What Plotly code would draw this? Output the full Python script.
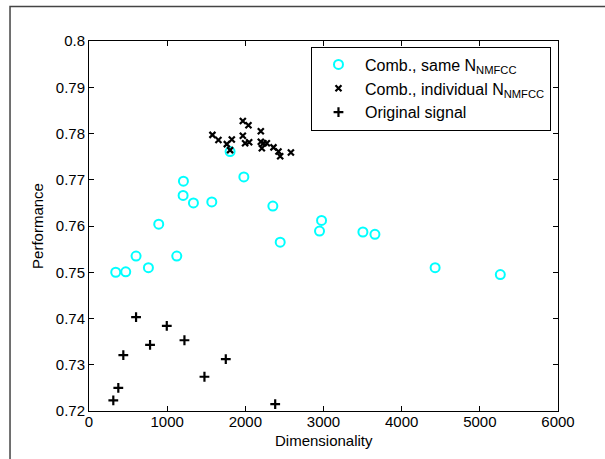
import plotly.graph_objects as go

# Comb., same N_NMFCC (cyan circles)
same_x = [342, 470, 602, 760, 892, 1123, 1208, 1204, 1336, 1571, 1981, 2352, 2446, 2949, 2975, 3504, 3658, 4428, 5262, 1805]
same_y = [0.7500, 0.7501, 0.7535, 0.7510, 0.7604, 0.7535, 0.7697, 0.7666, 0.7650, 0.7652, 0.7706, 0.7643, 0.7565, 0.7589, 0.7612, 0.7587, 0.7582, 0.7510, 0.7495, 0.7761]

# Comb., individual N_NMFCC (black x)
ind_x = [1968, 2040, 1579, 1656, 1827, 1763, 1805, 1968, 1997, 2049, 2198, 2198, 2232, 2211, 2275, 2360, 2424, 2446, 2583]
ind_y = [0.7827, 0.7818, 0.7797, 0.7786, 0.7787, 0.7777, 0.7764, 0.7795, 0.7779, 0.7781, 0.7805, 0.7782, 0.7779, 0.7768, 0.7779, 0.7770, 0.7761, 0.7751, 0.7759]

# Original signal (black +)
orig_x = [311, 375, 439, 602, 781, 995, 1221, 1477, 1750, 2382]
orig_y = [0.7223, 0.7250, 0.7321, 0.7403, 0.7343, 0.7384, 0.7353, 0.7274, 0.7312, 0.7215]

x_ticks = [0, 1000, 2000, 3000, 4000, 5000, 6000]
y_ticks = [0.72, 0.73, 0.74, 0.75, 0.76, 0.77, 0.78, 0.79, 0.80]
y_labels = ["0.72", "0.73", "0.74", "0.75", "0.76", "0.77", "0.78", "0.79", "0.8"]

FONT = "Liberation Sans, Arial, sans-serif"

fig = go.Figure()
fig.add_trace(go.Scatter(
    x=same_x, y=same_y, mode="markers", name="Comb., same N<sub>NMFCC</sub>",
    marker=dict(symbol="circle-open", size=9, color="#00FFFF", line=dict(width=2, color="#00FFFF")),
))
fig.add_trace(go.Scatter(
    x=ind_x, y=ind_y, mode="markers", name="Comb., individual N<sub>NMFCC</sub>",
    marker=dict(symbol="x-thin-open", size=6, color="black", line=dict(width=2.2, color="black")),
))
fig.add_trace(go.Scatter(
    x=orig_x, y=orig_y, mode="markers", name="Original signal",
    marker=dict(symbol="cross-thin-open", size=7, color="black", line=dict(width=2.2, color="black")),
))

axis_common = dict(
    showline=True, linecolor="black", linewidth=1, mirror="ticks",
    ticks="inside", ticklen=5, tickcolor="black", tickwidth=1,
    showgrid=False, zeroline=False,
    tickfont=dict(family=FONT, size=15, color="black"),
)

fig.update_xaxes(range=[0, 6000], tickvals=x_ticks, ticklabelstandoff=-3, **axis_common)
fig.update_yaxes(range=[0.72, 0.80], tickvals=y_ticks, ticktext=y_labels, title=dict(text="Performance", font=dict(family=FONT, size=15, color="black"), standoff=8), **axis_common)

fig.update_layout(
    width=605, height=459,
    margin=dict(l=89, r=47, t=41, b=48),
    paper_bgcolor="white", plot_bgcolor="white",
    font=dict(family=FONT, size=15, color="black"),
    showlegend=True,
    legend=dict(
        x=0.4733, y=0.985, xanchor="left", yanchor="top",
        bordercolor="black", borderwidth=1, bgcolor="white",
        font=dict(family=FONT, size=16, color="black"),
        itemwidth=43, tracegroupgap=0,
    ),
    annotations=[
        dict(text="Dimensionality", xref="paper", yref="paper", x=0.5, y=-0.08,
             xanchor="center", yanchor="middle", showarrow=False,
             font=dict(family=FONT, size=15, color="black")),
    ],
    shapes=[
        dict(type="path", xref="paper", yref="paper",
             path="M -0.1684 -0.2 L -0.1684 1.0932 L 1.3 1.0932",
             line=dict(color="#444444", width=1.5)),
    ],
)

fig.write_html("out.html")
